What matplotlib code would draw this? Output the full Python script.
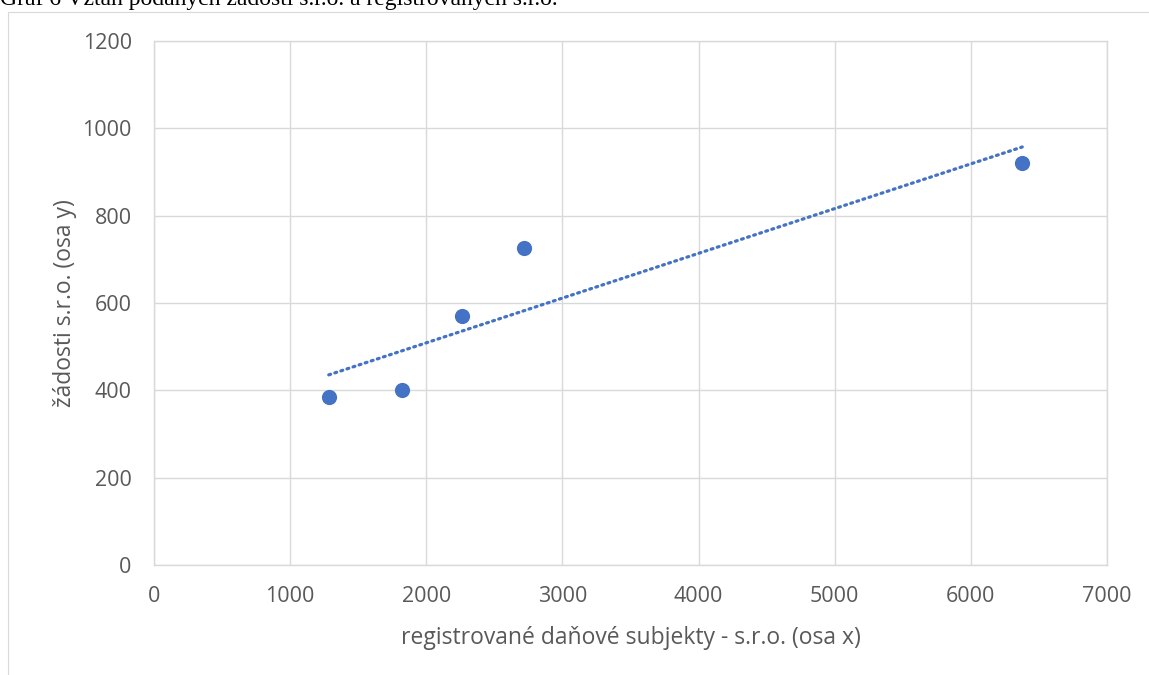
import numpy as np
import matplotlib.pyplot as plt
from matplotlib.patches import Rectangle

# Data
registered_sro = [1284, 1823, 2262, 2716, 6378]
requests_sro = [385, 400, 570, 727, 920]

x_ticks = [0, 1000, 2000, 3000, 4000, 5000, 6000, 7000]
y_ticks = [0, 200, 400, 600, 800, 1000, 1200]

title = "Graf 6 Vztah podaných žádostí s.r.o. a registrovaných s.r.o."
x_label = "registrované daňové subjekty - s.r.o. (osa x)"
y_label = "žádosti s.r.o. (osa y)"

BLUE = "#4472C4"
GRID = "#D9D9D9"
TEXT = "#595959"
FONT = ["Open Sans", "DejaVu Sans"]

fig = plt.figure(figsize=(11.49, 6.75), dpi=100)
ax = fig.add_axes([0.134, 0.163, 0.8294, 0.776])

# outer chart border
fig.patches.append(Rectangle((8 / 1149, -0.01), 1.1, 1 - 12 / 675 + 0.01,
                             transform=fig.transFigure, fill=False,
                             edgecolor=GRID, linewidth=0.8))

# title, partly cut by the top edge
fig.text(0.0, 1 - 5 / 675, title, family="Liberation Serif", fontsize=17,
         ha="left", va="baseline", color="black")

ax.scatter(registered_sro, requests_sro, s=120, color=BLUE, zorder=3,
           linewidths=0)

# linear trendline
k, q = np.polyfit(registered_sro, requests_sro, 1)
tx = np.array([min(registered_sro), max(registered_sro)])
ax.plot(tx, k * tx + q, color=BLUE, linestyle=(0, (0.6, 1.4)),
        linewidth=2.3, dash_capstyle="round", zorder=2)

ax.set_xlim(0, 7000)
ax.set_ylim(0, 1200)
ax.set_xticks(x_ticks)
ax.set_yticks(y_ticks)
ax.grid(True, color=GRID, linewidth=1)
ax.set_axisbelow(True)
for s in ax.spines.values():
    s.set_color(GRID)
    s.set_linewidth(1)
ax.tick_params(length=0, colors=TEXT, labelsize=15.5)
ax.tick_params(axis="x", pad=15)
ax.tick_params(axis="y", pad=16)
for lab in ax.get_xticklabels() + ax.get_yticklabels():
    lab.set_family(FONT)

ax.set_xlabel(x_label, family=FONT, fontsize=16.5, color=TEXT, labelpad=14)
ax.set_ylabel(y_label, family=FONT, fontsize=16.5, color=TEXT, labelpad=4)

fig.savefig("out.png", dpi=100)
